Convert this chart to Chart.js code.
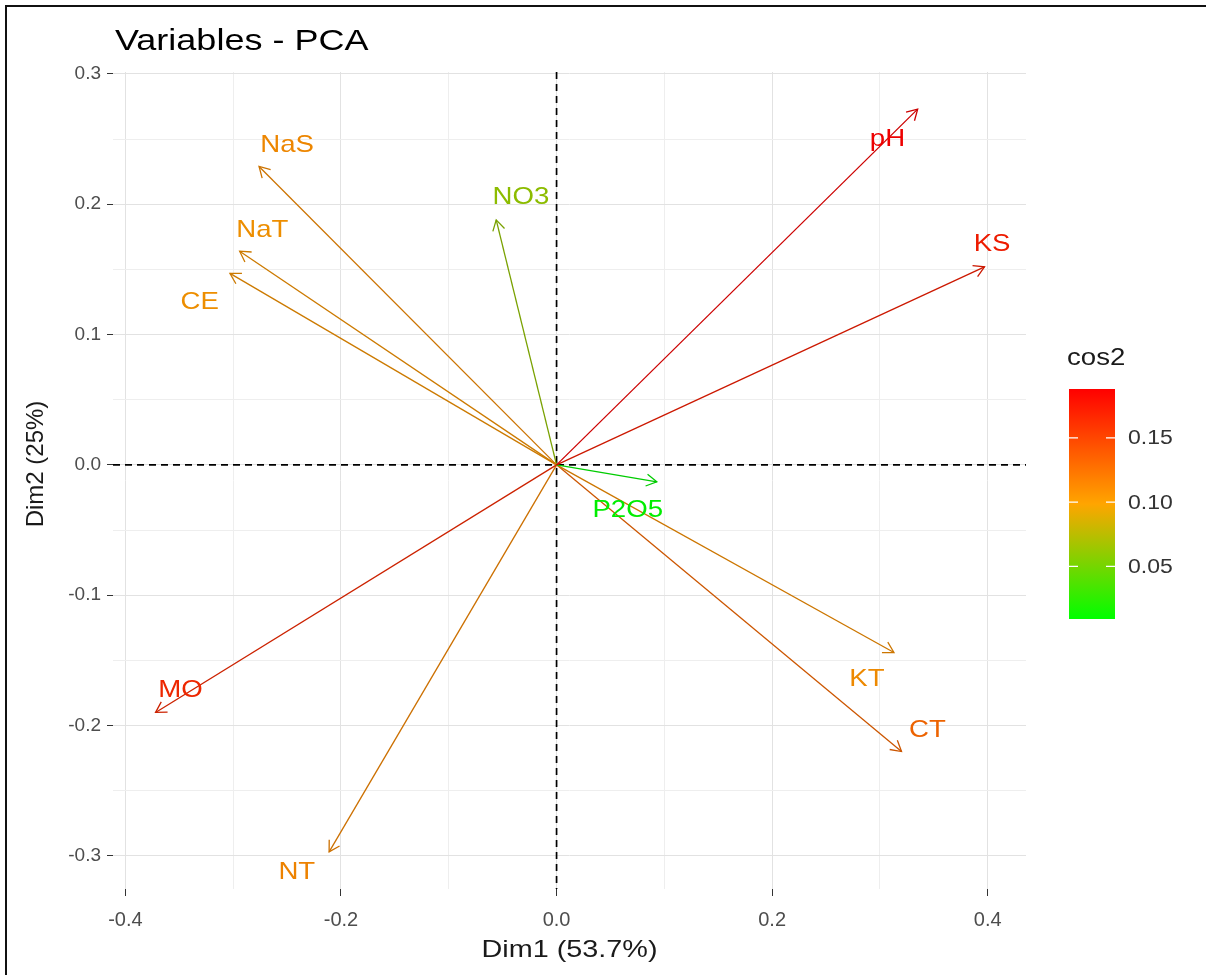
<!DOCTYPE html>
<html>
<head>
  <title>Variables - PCA</title>
  <script src="https://cdn.jsdelivr.net/npm/chart.js@4.4.1/dist/chart.umd.min.js"></script>
  <style>
    html, body {
      margin: 0;
      padding: 0;
      background: #fff;
    }
    .frame {
      position: relative;
      width: 1206px;
      height: 975px;
    }
    .frame canvas {
      display: block;
    }
    .edge {
      position: absolute;
      left: 5px;
      top: 5px;
      right: 0;
      bottom: 0;
      border-top: 2px solid #111;
      border-left: 2px solid #111;
      pointer-events: none;
    }
  </style>
</head>
<body>
  <div class="frame">
    <canvas id="chart" width="1206" height="975"></canvas>
    <div class="edge"></div>
  </div>

  <script>
    // variables and their coordinates on the first two dimensions
    const variables = ['pH', 'KS', 'NaS', 'NO3', 'NaT', 'CE', 'P2O5', 'MO', 'NT', 'KT', 'CT'];
    const dim1 = [0.335, 0.397, -0.276, -0.056, -0.294, -0.303, 0.093, -0.372, -0.211, 0.313, 0.320];
    const dim2 = [0.273, 0.152, 0.229, 0.188, 0.164, 0.147, -0.013, -0.190, -0.297, -0.144, -0.220];
    const cos2 = [0.188, 0.172, 0.110, 0.062, 0.105, 0.105, 0.009, 0.165, 0.112, 0.108, 0.130];

    // where each name is written
    const labelX = [0.307, 0.404, -0.250, -0.033, -0.273, -0.331, 0.066, -0.349, -0.241, 0.288, 0.344];
    const labelY = [0.250, 0.169, 0.245, 0.205, 0.180, 0.125, -0.035, -0.173, -0.313, -0.165, -0.204];

    const xTicks = [-0.4, -0.3, -0.2, -0.1, 0, 0.1, 0.2, 0.3, 0.4];
    const xTickLabels = ['-0.4', '', '-0.2', '', '0.0', '', '0.2', '', '0.4'];
    const yTicks = [-0.3, -0.25, -0.2, -0.15, -0.1, -0.05, 0, 0.05, 0.1, 0.15, 0.2, 0.25, 0.3];
    const yTickLabels = ['-0.3', '', '-0.2', '', '-0.1', '', '0.0', '', '0.1', '', '0.2', '', '0.3'];

    const legendTicks = [0.05, 0.10, 0.15];
    const legendTickLabels = ['0.05', '0.10', '0.15'];
    const gradientCols = [[0, 255, 0], [255, 165, 0], [255, 0, 0]];

    const xMin = -0.4115, xMax = 0.4355;
    const yMin = -0.3255, yMax = 0.3015;
    const cosMin = Math.min(...cos2), cosMax = Math.max(...cos2);

    const FONT = "'Liberation Sans', Arial, sans-serif";

    function cosColor(v, k) {
      k = k || 1;
      let t = (v - cosMin) / (cosMax - cosMin);
      t = Math.max(0, Math.min(1, t));
      const seg = t < 0.5 ? 0 : 1;
      const f = t < 0.5 ? t / 0.5 : (t - 0.5) / 0.5;
      const a = gradientCols[seg], b = gradientCols[seg + 1];
      const c = a.map((x, i) => Math.round((x + (b[i] - x) * f) * k));
      return `rgb(${c[0]}, ${c[1]}, ${c[2]})`;
    }

    // text with a slight horizontal stretch, as in the source picture
    function drawText(ctx, text, x, y, size, color, align, stretch, rotate) {
      ctx.save();
      ctx.translate(x, y);
      if (rotate) ctx.rotate(rotate);
      ctx.scale(stretch || 1, 1);
      ctx.font = `${size}px ${FONT}`;
      ctx.fillStyle = color;
      ctx.textAlign = align || 'center';
      ctx.textBaseline = 'middle';
      ctx.fillText(text, 0, 0);
      ctx.restore();
    }

    const datasets = variables.map((name, i) => ({
      label: name,
      data: [{ x: 0, y: 0 }, { x: dim1[i], y: dim2[i] }],
      showLine: true,
      borderColor: cosColor(cos2[i], 0.8),
      borderWidth: 1.3,
      pointRadius: 0,
      fill: false
    }));

    const zeroLines = {
      id: 'zeroLines',
      beforeDatasetsDraw(chart) {
        const { ctx, chartArea, scales } = chart;
        const x0 = scales.x.getPixelForValue(0);
        const y0 = scales.y.getPixelForValue(0);
        ctx.save();
        ctx.strokeStyle = '#000';
        ctx.lineWidth = 1.7;
        ctx.setLineDash([7, 5]);
        ctx.beginPath();
        ctx.moveTo(x0, chartArea.top);
        ctx.lineTo(x0, chartArea.bottom);
        ctx.moveTo(chartArea.left, y0);
        ctx.lineTo(chartArea.right, y0);
        ctx.stroke();
        ctx.restore();
      }
    };

    const arrowsAndNames = {
      id: 'arrowsAndNames',
      afterDatasetsDraw(chart) {
        const { ctx, scales } = chart;
        ctx.save();
        variables.forEach((name, i) => {
          const x0 = scales.x.getPixelForValue(0), y0 = scales.y.getPixelForValue(0);
          const x1 = scales.x.getPixelForValue(dim1[i]), y1 = scales.y.getPixelForValue(dim2[i]);
          const ang = Math.atan2(y1 - y0, x1 - x0);
          const len = 12, spread = Math.PI / 6;
          ctx.strokeStyle = cosColor(cos2[i], 0.8);
          ctx.lineWidth = 1.3;
          ctx.beginPath();
          ctx.moveTo(x1 - len * Math.cos(ang - spread), y1 - len * Math.sin(ang - spread));
          ctx.lineTo(x1, y1);
          ctx.lineTo(x1 - len * Math.cos(ang + spread), y1 - len * Math.sin(ang + spread));
          ctx.stroke();
        });
        variables.forEach((name, i) => {
          drawText(ctx, name, scales.x.getPixelForValue(labelX[i]), scales.y.getPixelForValue(labelY[i]),
            24, cosColor(cos2[i], 0.93), 'center', 1.15);
        });
        ctx.restore();
      }
    };

    const decorations = {
      id: 'decorations',
      afterDraw(chart) {
        const { ctx, chartArea } = chart;
        // title and axis titles
        drawText(ctx, 'Variables - PCA', 115, 42, 30, '#000', 'left', 1.2);
        drawText(ctx, 'Dim1 (53.7%)', (chartArea.left + chartArea.right) / 2, 950, 24, '#1a1a1a', 'center', 1.2);
        drawText(ctx, 'Dim2 (25%)', 36, 464, 24, '#1a1a1a', 'center', 1.0, -Math.PI / 2);

        // colour bar legend
        const bx = 1069, bw = 46, top = 389, bottom = 619;
        const grad = ctx.createLinearGradient(0, bottom, 0, top);
        for (let s = 0; s <= 10; s++) {
          grad.addColorStop(s / 10, cosColor(cosMin + (cosMax - cosMin) * s / 10));
        }
        ctx.save();
        ctx.fillStyle = grad;
        ctx.fillRect(bx, top, bw, bottom - top);
        ctx.strokeStyle = '#fff';
        ctx.lineWidth = 1.2;
        legendTicks.forEach((v, i) => {
          const y = bottom - (v - cosMin) / (cosMax - cosMin) * (bottom - top);
          ctx.beginPath();
          ctx.moveTo(bx, y); ctx.lineTo(bx + 9, y);
          ctx.moveTo(bx + bw - 9, y); ctx.lineTo(bx + bw, y);
          ctx.stroke();
          drawText(ctx, legendTickLabels[i], 1128, y + 1, 20, '#333', 'left', 1.15);
        });
        ctx.restore();
        drawText(ctx, 'cos2', 1067, 358, 24, '#1a1a1a', 'left', 1.15);
      }
    };

    function isMajor(labels, i) {
      return labels[i] !== '';
    }

    new Chart(document.getElementById('chart'), {
      type: 'scatter',
      data: { datasets },
      options: {
        responsive: false,
        animation: false,
        layout: { padding: { top: 72, right: 180, left: 0, bottom: 0 } },
        plugins: { legend: { display: false }, tooltip: { enabled: false } },
        scales: {
          x: {
            type: 'linear',
            min: xMin,
            max: xMax,
            afterBuildTicks: (s) => { s.ticks = xTicks.map((v) => ({ value: v })); },
            afterFit: (s) => { s.height = 86; },
            border: { display: false },
            grid: {
              color: (c) => isMajor(xTickLabels, c.index) ? '#e2e2e2' : '#eeeeee',
              lineWidth: 1,
              tickLength: 7,
              tickColor: (c) => isMajor(xTickLabels, c.index) ? '#333' : 'rgba(0,0,0,0)'
            },
            ticks: {
              autoSkip: false,
              maxRotation: 0,
              padding: 12,
              color: '#4d4d4d',
              font: { family: FONT, size: 20 },
              callback: (v, i) => xTickLabels[i]
            }
          },
          y: {
            type: 'linear',
            min: yMin,
            max: yMax,
            afterBuildTicks: (s) => { s.ticks = yTicks.map((v) => ({ value: v })); },
            afterFit: (s) => { s.width = 113; },
            border: { display: false },
            grid: {
              color: (c) => isMajor(yTickLabels, c.index) ? '#e2e2e2' : '#eeeeee',
              lineWidth: 1,
              tickLength: 6,
              tickColor: (c) => isMajor(yTickLabels, c.index) ? '#333' : 'rgba(0,0,0,0)'
            },
            ticks: {
              autoSkip: false,
              padding: 6,
              color: '#4d4d4d',
              font: { family: FONT, size: 19 },
              callback: (v, i) => yTickLabels[i]
            }
          }
        }
      },
      plugins: [zeroLines, arrowsAndNames, decorations]
    });
  </script>
</body>
</html>
